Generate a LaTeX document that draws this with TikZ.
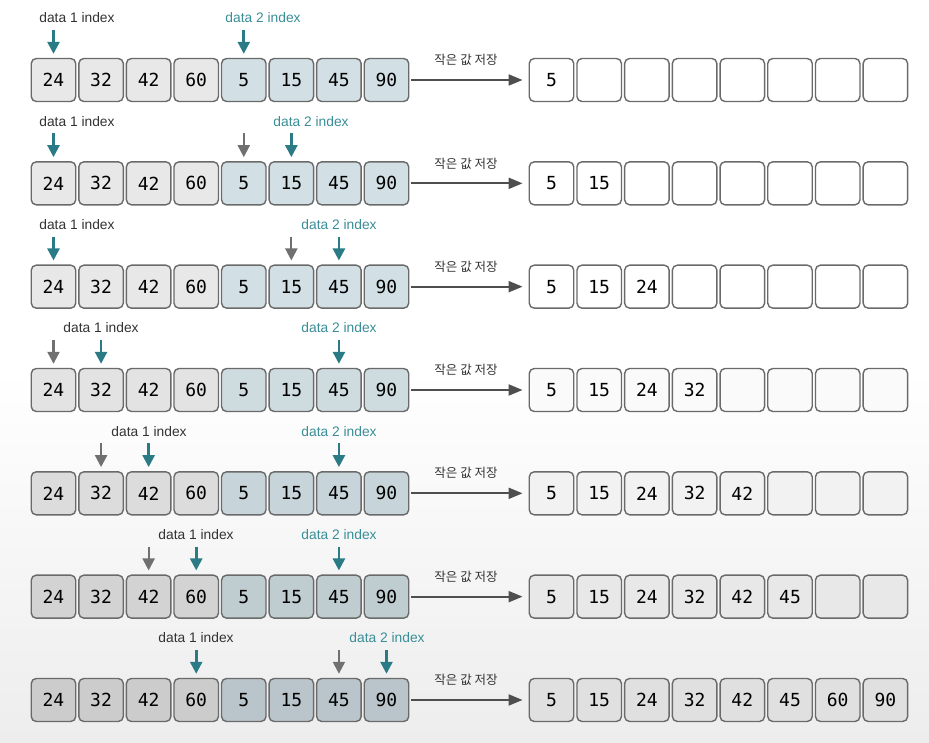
\documentclass[tikz,border=0pt]{standalone}
\usepackage{fontspec}
\setmainfont{Liberation Sans}
\newfontfamily\numfont{DejaVu Sans Mono}
\newfontfamily\krfont{Noto Sans CJK KR}
\usetikzlibrary{arrows.meta}
\definecolor{tealc}{HTML}{2B7B86}
\definecolor{teallab}{HTML}{3A8E97}
\definecolor{grayarr}{HTML}{707070}
\definecolor{boxline}{HTML}{6A6A6A}
\definecolor{fillg}{HTML}{E8E8E8}
\definecolor{fillb}{HTML}{D2E0E5}
\definecolor{arrc}{HTML}{4E4E4E}
\definecolor{labc}{HTML}{333333}
\definecolor{bgbot}{HTML}{DADADA}
\definecolor{bgmid}{HTML}{EDEDED}
\pgfdeclareverticalshading{bgshade}{100bp}{color(0bp)=(bgbot); color(25bp)=(bgmid); color(50bp)=(white); color(100bp)=(white)}
\tikzset{
  cell/.style={draw=boxline, line width=1.4pt, rounded corners=5pt,
    minimum width=44.5pt, minimum height=43pt, inner sep=0pt,
    font=\numfont\fontsize{18}{18}\selectfont, text=black},
  idx/.style={line width=2.6pt, -{Triangle[length=12pt,width=12pt]}, shorten >=4pt},
  curidx/.style={idx, draw=tealc, color=tealc},
  previdx/.style={idx, draw=grayarr, color=grayarr, line width=2.2pt},
  lab1/.style={font=\fontsize{13.8}{14}\selectfont, text=labc},
  lab2/.style={font=\fontsize{13.8}{14}\selectfont, text=teallab},
  move/.style={draw=arrc, line width=2pt, -{Triangle[length=14pt,width=11pt]}, shorten <=2pt, shorten >=6pt},
  movelab/.style={font=\krfont\fontsize{12.5}{13}\selectfont, text=labc}
}
\begin{document}
\begin{tikzpicture}[x=1pt,y=-1pt]
\useasboundingbox (0,0) rectangle (929,743);
\fill[shading=bgshade] (0,0) rectangle (929,743);
\foreach \r/\d/\n/\a/\b/\g/\la/\lb in {
  1/0/1/1/5/0/77/263,
  2/0/2/1/6/5/77/311,
  3/0/3/1/7/6/77/339,
  4/2/4/2/7/1/101/339,
  5/5/5/3/7/2/149/339,
  6/9/6/4/7/3/196/339,
  7/12/8/4/8/7/196/387}{
  \pgfmathsetmacro\yc{80+(\r-1)*103.33}
  \pgfmathtruncatemacro\pp{100-\d}
  \colorlet{gF}{fillg!\pp!black}
  \colorlet{bF}{fillb!\pp!black}
  \colorlet{wF}{white!\pp!black}
  \foreach \v [count=\i] in {24,32,42,60,5,15,45,90}{
    \ifnum\i<5 \def\fc{gF}\else\def\fc{bF}\fi
    \node[cell, fill=\fc] (L\r-\i) at ({53.5+(\i-1)*47.57},\yc) {\v};
  }
  \foreach \v [count=\i] in {5,15,24,32,42,45,60,90}{
    \ifnum\i>\n \def\vv{}\else\def\vv{\v}\fi
    \node[cell, fill=wF] (R\r-\i) at ({551.5+(\i-1)*47.7},\yc) {\vv};
  }
  \draw[move] (L\r-8.east) -- (R\r-1.west);
  \node[movelab] (M\r) at (466,\yc-20) {작은 값 저장};
  % index arrows
  \coordinate (A\r) at ({53.5+(\a-1)*47.57},\yc-50);
  \coordinate (B\r) at ({53.5+(\b-1)*47.57},\yc-50);
  \draw[curidx] (A\r) -- (L\r-\a.north);
  \draw[curidx] (B\r) -- (L\r-\b.north);
  \ifnum\g>0
    \coordinate (G\r) at ({53.5+(\g-1)*47.57},\yc-50);
    \draw[previdx] (G\r) -- (L\r-\g.north);
  \fi
  \node[lab1] (T1-\r) at (\la,\yc-62) {data 1 index};
  \node[lab2] (T2-\r) at (\lb,\yc-62) {data 2 index};
}
\end{tikzpicture}
\end{document}
